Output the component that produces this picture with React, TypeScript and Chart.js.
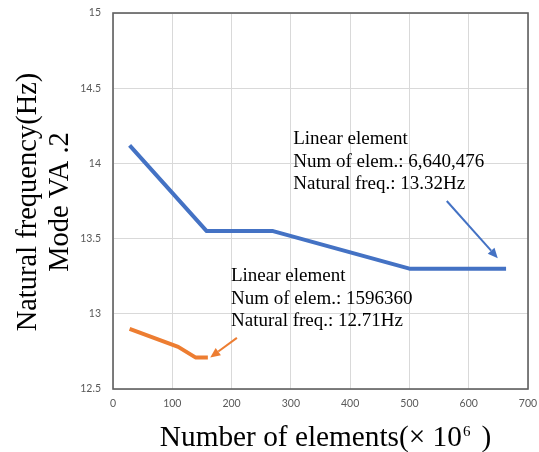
import React, { useEffect, useRef } from "react";
import { Chart, registerables } from "chart.js";

Chart.register(...registerables);

// ---- data ----
const blueX = [28, 158, 270, 500, 663];
const blueY = [14.12, 13.55, 13.55, 13.3, 13.3];
const orangeX = [28, 110, 139, 160];
const orangeY = [12.9, 12.78, 12.71, 12.71];

const xTickMin = 0;
const xTickMax = 700;
const xTickStep = 100;
const yTickMin = 12.5;
const yTickMax = 15;
const yTickStep = 0.5;

const yTitleLines = ["Natural frequency(Hz)", "Mode VA .2"];
const xTitleMain = "Number of elements(× 10";
const xTitleSup = "6";
const xTitleEnd = ")";

const blueNote = ["Linear element", "Num of elem.: 6,640,476", "Natural freq.: 13.32Hz"];
const blueNoteAt = [304, 14.13];
const blueArrow = [563, 13.75, 649, 13.37];
const orangeNote = ["Linear element", "Num of elem.: 1596360", "Natural freq.: 12.71Hz"];
const orangeNoteAt = [199, 13.22];
const orangeArrow = [209, 12.84, 164, 12.71];

const BLUE = "#4472C4";
const ORANGE = "#ED7D31";
const SERIF = '"Liberation Serif", "Times New Roman", serif';

function arrow(ctx: CanvasRenderingContext2D, x1: number, y1: number, x2: number, y2: number, color: string) {
  const ang = Math.atan2(y2 - y1, x2 - x1);
  const head = 10;
  const half = 4.5;
  const bx = x2 - head * Math.cos(ang);
  const by = y2 - head * Math.sin(ang);
  ctx.save();
  ctx.strokeStyle = color;
  ctx.fillStyle = color;
  ctx.lineWidth = 2;
  ctx.beginPath();
  ctx.moveTo(x1, y1);
  ctx.lineTo(bx, by);
  ctx.stroke();
  ctx.beginPath();
  ctx.moveTo(x2, y2);
  ctx.lineTo(bx + half * Math.sin(ang), by - half * Math.cos(ang));
  ctx.lineTo(bx - half * Math.sin(ang), by + half * Math.cos(ang));
  ctx.closePath();
  ctx.fill();
  ctx.restore();
}

const decorPlugin = {
  id: "decor",
  afterDraw(chart: any) {
    const ctx: CanvasRenderingContext2D = chart.ctx;
    const { left, right, top, bottom } = chart.chartArea;
    const xs = chart.scales.x;
    const ys = chart.scales.y;

    // border
    ctx.save();
    ctx.strokeStyle = "#5f5f5f";
    ctx.lineWidth = 1.6;
    ctx.strokeRect(left, top, right - left, bottom - top);
    ctx.restore();

    // notes
    const drawNote = (lines: string[], at: number[]) => {
      ctx.save();
      ctx.font = `19px ${SERIF}`;
      ctx.fillStyle = "#000";
      ctx.textAlign = "left";
      ctx.textBaseline = "alphabetic";
      const px = xs.getPixelForValue(at[0]);
      const py = ys.getPixelForValue(at[1]);
      lines.forEach((l, i) => ctx.fillText(l, px, py + i * 22.8));
      ctx.restore();
    };
    drawNote(blueNote, blueNoteAt);
    drawNote(orangeNote, orangeNoteAt);

    arrow(ctx, xs.getPixelForValue(blueArrow[0]), ys.getPixelForValue(blueArrow[1]),
      xs.getPixelForValue(blueArrow[2]), ys.getPixelForValue(blueArrow[3]), BLUE);
    arrow(ctx, xs.getPixelForValue(orangeArrow[0]), ys.getPixelForValue(orangeArrow[1]),
      xs.getPixelForValue(orangeArrow[2]), ys.getPixelForValue(orangeArrow[3]), ORANGE);

    // y title
    ctx.save();
    ctx.fillStyle = "#000";
    ctx.font = `28.5px ${SERIF}`;
    ctx.textAlign = "center";
    ctx.textBaseline = "alphabetic";
    const cy = (top + bottom) / 2 + 1;
    ctx.translate(0, cy);
    ctx.rotate(-Math.PI / 2);
    ctx.fillText(yTitleLines[0], 0, 36);
    ctx.fillText(yTitleLines[1], 0, 68);
    ctx.restore();

    // x title
    ctx.save();
    ctx.fillStyle = "#000";
    ctx.textBaseline = "alphabetic";
    ctx.textAlign = "left";
    ctx.font = `29.3px ${SERIF}`;
    const w1 = ctx.measureText(xTitleMain).width;
    const w3 = ctx.measureText(xTitleEnd).width;
    ctx.font = `15px ${SERIF}`;
    const w2 = ctx.measureText(xTitleSup).width;
    const gapSup = 1;
    const gapEnd = 11;
    const total = w1 + gapSup + w2 + gapEnd + w3;
    const cx = (left + right) / 2 + 5;
    const x0 = cx - total / 2;
    const base = 446;
    ctx.font = `29.3px ${SERIF}`;
    ctx.fillText(xTitleMain, x0, base);
    ctx.font = `15px ${SERIF}`;
    ctx.fillText(xTitleSup, x0 + w1 + gapSup, base - 10);
    ctx.font = `29.3px ${SERIF}`;
    ctx.fillText(xTitleEnd, x0 + w1 + gapSup + w2 + gapEnd, base);
    ctx.restore();
  },
};

const fmt = (v: any) => String(Number(Number(v).toFixed(2)));

export default function App() {
  const ref = useRef<HTMLCanvasElement | null>(null);
  useEffect(() => {
    if (!ref.current) return;
    const tickFont = { family: "Lato, 'Open Sans', sans-serif", size: 10.5 };
    const chart = new Chart(ref.current, {
      type: "scatter",
      data: {
        datasets: [
          {
            data: blueX.map((x, i) => ({ x, y: blueY[i] })),
            showLine: true,
            borderColor: BLUE,
            backgroundColor: BLUE,
            borderWidth: 4,
            pointRadius: 0,
            borderJoinStyle: "round",
          },
          {
            data: orangeX.map((x, i) => ({ x, y: orangeY[i] })),
            showLine: true,
            borderColor: ORANGE,
            backgroundColor: ORANGE,
            borderWidth: 4,
            pointRadius: 0,
            borderJoinStyle: "round",
          },
        ],
      },
      options: {
        animation: false,
        responsive: false,
        devicePixelRatio: 1,
        layout: { padding: { top: 13, right: 11, left: 0, bottom: 0 } },
        plugins: { legend: { display: false }, tooltip: { enabled: false } },
        scales: {
          x: {
            type: "linear",
            min: xTickMin,
            max: xTickMax,
            ticks: { stepSize: xTickStep, color: "#595959", font: tickFont, padding: 8, maxRotation: 0, callback: fmt },
            grid: { color: "#d9d9d9", lineWidth: 1, drawTicks: false },
            border: { display: false },
            afterFit: (s: any) => { s.height = 63; s.paddingLeft = 0; s.paddingRight = 0; },
          },
          y: {
            type: "linear",
            min: yTickMin,
            max: yTickMax,
            ticks: { stepSize: yTickStep, color: "#595959", font: tickFont, padding: 12, callback: fmt },
            grid: { color: "#d9d9d9", lineWidth: 1, drawTicks: false },
            border: { display: false },
            afterFit: (s: any) => { s.width = 113; s.paddingTop = 0; s.paddingBottom = 0; },
          },
        },
      },
      plugins: [decorPlugin],
    } as any);
    return () => chart.destroy();
  }, []);
  return (
    <div style={{ position: "absolute", left: 0, top: 0, width: 539, height: 452, background: "#fff" }}>
      <canvas ref={ref} width={539} height={452} />
    </div>
  );
}
